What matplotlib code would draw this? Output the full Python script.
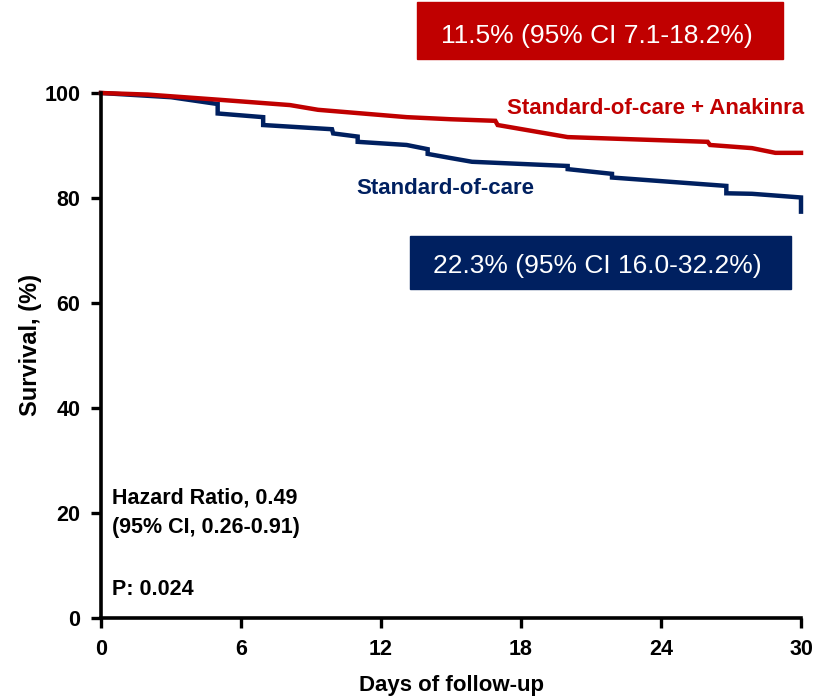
import matplotlib
matplotlib.use("Agg")
import matplotlib.pyplot as plt

# Data: Kaplan-Meier survival curves (day, survival %)
soc_days = [0, 3, 5.0, 5.0, 6.95, 6.95, 9.9, 9.95, 11.0, 11.0, 13.1, 14.0, 14.0, 15.0, 15.9, 20.0, 20.0, 21.9, 21.9, 26.8, 26.8, 27.9, 30.0, 30.0]
soc_surv = [100, 99.2, 97.9, 96.1, 95.4, 93.9, 93.1, 92.3, 91.7, 90.7, 90.1, 89.3, 88.4, 87.6, 86.9, 86.1, 85.5, 84.6, 83.9, 82.3, 80.9, 80.8, 80.1, 77.4]

ana_days = [0, 2, 5.1, 8.1, 9.3, 13.1, 15.0, 16.9, 17.0, 20.0, 26.0, 26.1, 27.9, 28.9, 30.0]
ana_surv = [100, 99.7, 98.7, 97.7, 96.8, 95.4, 95.0, 94.7, 93.9, 91.6, 90.7, 90.1, 89.5, 88.6, 88.6]

x_ticks = [0, 6, 12, 18, 24, 30]
y_ticks = [0, 20, 40, 60, 80, 100]

RED = "#C00000"
BLUE = "#002060"

plt.rcParams['font.family'] = ['Liberation Sans', 'DejaVu Sans']

fig = plt.figure(figsize=(8.15, 6.96), dpi=100)
ax = fig.add_axes([101/815, 1-618/696, 700/815, 525/696])

ax.plot(soc_days, soc_surv, color=BLUE, lw=3.2, solid_joinstyle='miter', clip_on=False)
ax.plot(ana_days, ana_surv, color=RED, lw=3.2, solid_joinstyle='miter', clip_on=False)

ax.set_xlim(0, 30)
ax.set_ylim(0, 100)
ax.set_xticks(x_ticks)
ax.set_yticks(y_ticks)
for s in ['top', 'right']:
    ax.spines[s].set_visible(False)
for s in ['left', 'bottom']:
    ax.spines[s].set_linewidth(2.6)
ax.tick_params(direction='out', length=7, width=2.4, labelsize=15.5)
ax.tick_params(axis='y', pad=8)
ax.tick_params(axis='x', pad=8)
for lab in ax.get_xticklabels() + ax.get_yticklabels():
    lab.set_fontweight('bold')

ax.set_xlabel("Days of follow-up", fontsize=16, fontweight='bold', va='baseline')
ax.xaxis.set_label_coords(0.5, (618 - 691) / 525)
ax.set_ylabel("Survival, (%)", fontsize=17, fontweight='bold', va='center')
ax.yaxis.set_label_coords((31 - 101) / 700, (618 - 345) / 525)

ax.text(17.4, 96.0, "Standard-of-care + Anakinra", color=RED, fontsize=16,
        fontweight='bold', ha='left', va='baseline')
ax.text(10.95, 80.8, "Standard-of-care", color=BLUE, fontsize=16,
        fontweight='bold', ha='left', va='baseline')

ax.text(0.47, 21.9, "Hazard Ratio, 0.49", fontsize=15.5,
        fontweight='bold', ha='left', va='baseline')
ax.text(0.47, 16.2, "(95% CI, 0.26-0.91)", fontsize=15.5,
        fontweight='bold', ha='left', va='baseline')
ax.text(0.47, 4.4, "P: 0.024", fontsize=15.5, fontweight='bold', ha='left', va='baseline')

# Text boxes
fig.patches.append(plt.Rectangle((417/815, 1-59/696), 366/815, 57/696,
                                 transform=fig.transFigure, color=RED, zorder=0))
fig.text(597/815, 1-43/696, "11.5% (95% CI 7.1-18.2%)", color='white', fontsize=19,
         ha='center', va='baseline')
fig.patches.append(plt.Rectangle((410/815, 1-289/696), 381/815, 53/696,
                                 transform=fig.transFigure, color=BLUE, zorder=0))
fig.text(597/815, 1-273/696, "22.3% (95% CI 16.0-32.2%)", color='white', fontsize=19,
         ha='center', va='baseline')

fig.savefig("out.png", dpi=100)
